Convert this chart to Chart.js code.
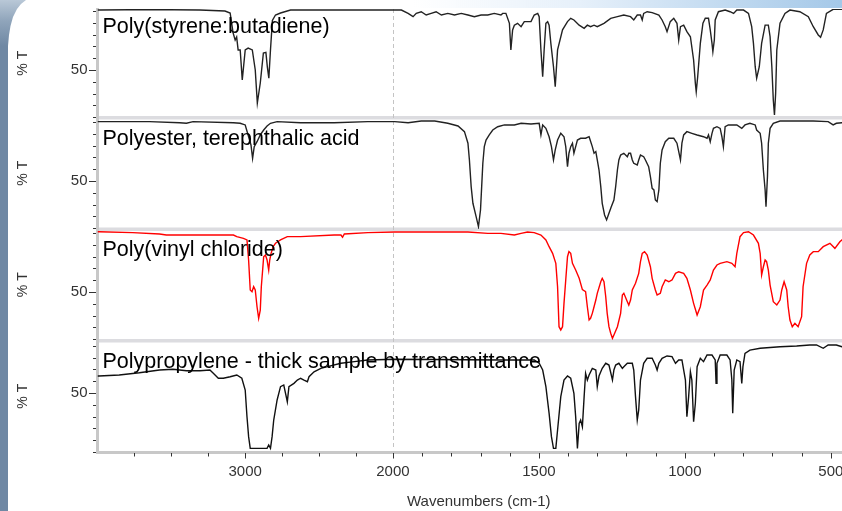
<!DOCTYPE html>
<html>
<head>
<meta charset="utf-8">
<title>IR spectra</title>
<script src="https://cdn.jsdelivr.net/npm/chart.js@4.4.1/dist/chart.umd.min.js"></script>
<style>
  html, body { margin: 0; padding: 0; background: #fff; overflow: hidden; }
  #wrap { position: relative; width: 842px; height: 511px; overflow: hidden; }
  #spectra { position: absolute; left: 0; top: 0; }
  .strip { position: absolute; left: 0; top: 0; width: 8px; height: 511px; background: #6f88a4; }
  .corner {
    position: absolute; left: 0; top: 0; width: 28px; height: 46px;
    background: linear-gradient(180deg, #b9c8d7 0%, #90a5bb 45%, #6f88a4 100%);
    clip-path: polygon(0 0, 26px 0, 21px 4px, 17px 9px, 13px 17px, 10.5px 26px, 9px 35px, 8px 46px, 0 46px);
  }
  .topbar {
    position: absolute; left: 0; top: 0; width: 842px; height: 8px;
    background: linear-gradient(to right, rgba(255,255,255,0) 0%, rgba(255,255,255,0) 49%, #e6f0fa 69%, #a4c8e8 100%);
  }
</style>
</head>
<body>
<div id="wrap">
  <canvas id="spectra" width="860" height="511"></canvas>
  <div class="strip"></div>
  <div class="corner"></div>
  <div class="topbar"></div>
</div>
<script>
const FONT = '"Liberation Sans", Arial, sans-serif';

const panelTitles = [
  "Poly(styrene:butadiene)",
  "Polyester, terephthalic acid",
  "Poly(vinyl chloride)",
  "Polypropylene - thick sample by transmittance"
];
const xLabelTicks = [3000, 2000, 1500, 1000, 500];
const xMinorTicks = [3750, 3500, 3250, 2750, 2500, 2250, 1900, 1800, 1700, 1600,
  1400, 1300, 1200, 1100, 900, 800, 700, 600, 400];
const yLabelTick = 50;

// [wavenumber cm-1, %T]
const sbr = [[4000,100.8],[3990,100.8],[3648,101.3],[3307,100.8],[3137,100],[3102,98.3],[3082,81.4],[3068,75.4],[3058,78],[3048,67],[3034,67],[3020,41.5],[3000,67],[2980,68.6],[2952,67],[2932,50],[2918,22],[2898,39],[2877,64.4],[2860,65],[2850,52.5],[2840,43],[2829,67],[2816,92],[2795,96.6],[2761,98.3],[2693,100.8],[2000,100.8],[1971,100.8],[1948,98],[1931,95.2],[1920,98],[1903,99.4],[1886,96.6],[1869,98],[1852,99.4],[1834,96.6],[1812,98],[1789,96.6],[1766,98],[1743,96.6],[1721,95.2],[1698,96.6],[1675,96.6],[1653,98],[1630,96.6],[1624,98],[1613,98],[1601,89.6],[1596,67],[1590,84],[1584,88],[1573,89.6],[1561,86.7],[1550,91],[1527,91],[1516,96.6],[1504,98],[1499,95.2],[1493,67],[1487,44.4],[1482,67],[1476,89.6],[1470,91],[1465,88],[1459,72.6],[1450,52.8],[1444,35.9],[1436,67],[1419,84],[1402,91],[1391,93.8],[1380,92.4],[1362,88],[1345,85.3],[1334,88],[1323,86.7],[1311,88],[1300,86.7],[1277,89.6],[1254,93.8],[1231,95.2],[1209,96.6],[1186,95.2],[1175,92.4],[1163,96.6],[1152,96.6],[1146,92.4],[1141,98],[1129,99.4],[1112,98.6],[1089,96.6],[1078,92.4],[1067,86.7],[1061,82.5],[1050,91],[1038,93.8],[1027,89.6],[1021,75.4],[1015,86.7],[1004,88],[993,82.5],[981,78.2],[970,58.5],[964,38.7],[961,31.6],[956,44.3],[947,72.6],[938,89.6],[930,93.8],[919,93.8],[913,84],[907,72.6],[904,65.5],[899,75.4],[896,92.4],[885,99.4],[862,100.8],[845,99.4],[833,98],[822,100.8],[799,100.8],[782,98],[771,86.7],[765,72.6],[759,52.8],[754,43],[745,52.8],[737,72.6],[725,88],[714,88],[708,78.2],[702,52.8],[697,24.6],[693,11.9],[689,30.2],[685,67],[674,89.6],[657,98],[640,100.8],[606,99.4],[577,95.2],[560,86.7],[543,79.7],[535,77.7],[526,84],[515,98],[492,101.4],[400,101.4]];

const pet = [[4000,100.3],[3990,100.3],[3648,100.3],[3444,99.4],[3398,98.9],[3353,100.3],[3080,99.4],[3034,98.9],[3000,97.5],[2977,87.5],[2961,80.5],[2950,69.2],[2939,79.1],[2920,83.3],[2898,89],[2875,93.2],[2852,96.6],[2829,98.9],[2784,100.3],[2625,99.4],[2398,99.4],[2170,100.3],[1994,100.3],[1948,99.4],[1903,100.8],[1857,100.8],[1812,98.9],[1777,96.6],[1755,91.8],[1743,82],[1738,67.8],[1732,45.2],[1726,31.1],[1715,19.8],[1707,11.3],[1700,25.4],[1696,45.2],[1692,65],[1687,79.1],[1681,84.7],[1670,89],[1658,93.2],[1641,96],[1618,97.5],[1584,97.5],[1561,98.9],[1527,98.3],[1499,98.9],[1493,89],[1487,97.5],[1476,94.6],[1465,87.5],[1457,79.1],[1450,67.8],[1444,76.3],[1436,84.7],[1425,90.4],[1414,87.5],[1408,79.1],[1402,62.1],[1397,73.5],[1391,79.1],[1385,82],[1380,73.5],[1374,79.1],[1368,84.7],[1357,86.2],[1340,86.2],[1328,87.5],[1317,79.1],[1311,73.5],[1305,74.9],[1300,67.8],[1294,59.3],[1288,45.2],[1283,31.1],[1275,21.2],[1268,17],[1260,22.6],[1252,28.2],[1243,33.9],[1237,45.2],[1231,59.3],[1226,67.8],[1220,72],[1209,73.5],[1197,70.6],[1192,73.5],[1186,73.5],[1180,67.8],[1175,65],[1163,63.6],[1158,67.8],[1152,72],[1141,70.6],[1135,67.8],[1124,62.1],[1118,53.7],[1112,43.8],[1106,42.4],[1101,33.9],[1095,32.5],[1089,42.4],[1084,65],[1078,76.3],[1067,83.3],[1055,86.2],[1038,86.2],[1027,82],[1015,67.8],[1010,82],[1004,89],[993,91.8],[976,90.4],[958,89],[936,87.5],[924,86.2],[919,89],[913,83.3],[907,90.4],[902,94.6],[890,96],[879,94.6],[873,87.5],[868,79.1],[862,96],[851,97.5],[822,97.5],[805,94.6],[794,97.5],[777,98.9],[759,97.5],[754,93.2],[742,90.4],[737,82],[731,59.3],[725,42.4],[722,28.2],[717,53.7],[714,82],[708,94.6],[697,98.9],[674,100.8],[560,100.8],[509,100.3],[492,97.5],[481,98.9],[462,99.4],[400,99.4]];

const pvc = [[4000,101.1],[3990,101.1],[3762,100.3],[3580,99.2],[3534,98.3],[3307,98.3],[3080,98.3],[3057,96.9],[3012,95.5],[2988,94.1],[2977,77.1],[2966,51.7],[2954,50.3],[2943,54.5],[2932,51.7],[2920,37.5],[2909,27.7],[2898,34.7],[2891,54.5],[2882,68.6],[2875,79.9],[2863,81.4],[2852,77.1],[2841,68.6],[2834,77.1],[2825,82.8],[2811,88.4],[2795,91.3],[2761,94.1],[2715,96.9],[2625,96.9],[2398,98.3],[2352,98.3],[2341,96.4],[2329,99.2],[2170,100.3],[1994,100.8],[1743,100.8],[1675,99.7],[1630,99.7],[1584,98.3],[1561,99.7],[1539,100.8],[1516,100.3],[1493,98.3],[1476,94.1],[1465,88.4],[1453,82.8],[1442,74.3],[1436,54.5],[1431,20.6],[1425,17.8],[1419,20.6],[1414,40.4],[1408,60.2],[1402,79.9],[1397,84.2],[1391,82.8],[1385,74.3],[1374,68.6],[1362,61.6],[1351,52],[1340,50.3],[1334,37.5],[1328,26.3],[1323,27.7],[1317,31.9],[1311,37.5],[1305,43.2],[1300,48.9],[1288,58.7],[1283,61.6],[1277,58.7],[1271,46],[1266,31.9],[1260,20.6],[1254,15],[1248,10.8],[1243,13.6],[1231,20.6],[1220,31.9],[1214,47.5],[1209,48.9],[1197,41.8],[1192,39],[1186,43.2],[1180,51.7],[1169,57.4],[1158,65.8],[1152,75.7],[1146,82.8],[1138,84.2],[1129,81.4],[1118,71.4],[1112,61.6],[1101,51.7],[1095,47.5],[1084,48.9],[1078,54.5],[1067,60.2],[1055,58.7],[1044,60.2],[1032,65.8],[1021,67.2],[1004,65.8],[993,61.6],[981,51.7],[970,40.4],[958,30.5],[947,37.5],[936,51.7],[924,55.9],[913,60.2],[902,68.6],[890,72.9],[879,74.3],[856,75.7],[839,74.3],[828,71.4],[822,82.8],[811,96.9],[799,100.3],[782,101.1],[765,98.3],[748,91.3],[742,82.8],[737,64.4],[731,71.4],[725,77.1],[720,75.7],[714,68.6],[708,55.9],[697,41.8],[685,39],[674,43.2],[668,51.7],[660,58.7],[651,51.7],[646,37.5],[640,26.3],[632,20.6],[623,23.5],[612,20.6],[600,29.1],[595,54.5],[583,74.3],[572,81.4],[560,84.2],[543,84.2],[526,88.4],[503,91.3],[486,87],[469,92.6],[462,94.1],[400,96]];

const pp = [[4000,64.4],[3990,64.4],[3853,65.3],[3717,67.2],[3580,69.5],[3489,70.1],[3398,68.9],[3307,68.9],[3239,69.5],[3216,66.7],[3182,62.5],[3148,62.5],[3102,63.8],[3057,65.3],[3023,62.5],[3000,52.5],[2988,29.9],[2977,13],[2966,3.1],[2852,3.1],[2841,5.9],[2829,3.1],[2818,13],[2807,27.1],[2784,44.1],[2761,55.4],[2739,56.8],[2727,49.7],[2715,42.6],[2704,55.4],[2670,58.2],[2647,61],[2625,62.5],[2602,61],[2579,59.6],[2568,63.8],[2534,68],[2488,70.9],[2443,72.3],[2352,75.2],[2261,76.6],[2170,78],[1994,78.6],[1630,78],[1516,78],[1499,75.2],[1487,69.5],[1476,55.4],[1465,32.8],[1457,13],[1450,3.1],[1442,3.1],[1436,18.6],[1425,46.9],[1414,61],[1402,64.4],[1391,62.5],[1380,49.7],[1374,29.9],[1368,3.1],[1362,24.3],[1357,27.1],[1351,21.4],[1345,46.9],[1340,66.7],[1334,61],[1328,65.3],[1317,70.9],[1305,69.5],[1300,55.4],[1294,64.4],[1283,70.9],[1271,75.2],[1260,73.7],[1248,61],[1243,69.5],[1237,73.7],[1226,75.2],[1214,70.9],[1209,72.3],[1197,75.2],[1180,75.2],[1175,69.5],[1169,46.9],[1163,27.1],[1158,35.6],[1152,61],[1141,75.2],[1129,79.4],[1112,79.4],[1101,73.7],[1095,69.5],[1089,75.2],[1078,79.4],[1061,81.4],[1044,80.8],[1032,75.2],[1021,78],[1010,78],[998,61],[993,29.9],[987,46.9],[981,68],[976,61],[970,25.7],[964,41.3],[958,72.3],[947,79.4],[936,76.6],[924,82.2],[907,82.2],[896,78],[893,58.2],[890,75.2],[879,82.2],[856,82.2],[845,78],[839,61],[836,32.8],[831,69.5],[822,78],[811,76.6],[805,58.2],[801,72.3],[794,83.6],[777,86.4],[742,87.9],[674,89.2],[617,89.8],[572,90.7],[549,90.7],[526,87.9],[509,90.7],[481,90.7],[462,89.2],[400,89.5]];

// the wavenumber axis is expanded 2x below 2000 cm-1
function wavePos(wn) {
  return wn >= 2000 ? (4000 - wn) * 0.506 : 1012 + (2000 - wn);
}

class WaveScale extends Chart.LinearScale {
  static id = "wave";
  getPixelForValue(value) {
    if (value === null || value === undefined || isNaN(value)) return NaN;
    const a = wavePos(this.max);
    const b = wavePos(this.min);
    return this.getPixelForDecimal((wavePos(value) - a) / (b - a));
  }
}
Chart.register(WaveScale);

function series(points, axis, color) {
  return {
    data: points.map((p) => ({ x: p[0], y: p[1] })),
    yAxisID: axis,
    borderColor: color,
    borderWidth: 1.4,
    pointRadius: 0,
    tension: 0,
    fill: false,
  };
}

function yAxis(min, max, weight) {
  return {
    type: "linear",
    position: "left",
    stack: "panels",
    stackWeight: weight,
    min: min,
    max: max,
    afterBuildTicks: (s) => { s.ticks = [{ value: yLabelTick }]; },
    afterFit: (s) => {
      s.width = 97.5;
      s.paddingTop = 0;
      s.paddingBottom = 0;
    },
    grid: { display: false, drawTicks: false },
    border: { display: true, color: "#c8c8c8", width: 3 },
    ticks: { padding: 10, color: "#333", font: { family: FONT, size: 15 }, callback: (v) => String(v) },
    title: { display: true, text: "% T", color: "#333", font: { family: FONT, size: 14 }, padding: { top: 15, bottom: 0 } },
  };
}

const panelDecor = {
  id: "panelDecor",
  beforeDatasetsDraw(chart) {
    const { ctx, chartArea: a, scales } = chart;
    ctx.save();
    // grey separators between the panels
    ctx.fillStyle = "#dcdce0";
    ["y1", "y2", "y3"].forEach((id) => {
      ctx.fillRect(a.left + 1.5, scales[id].bottom - 1.5, a.right - a.left, 3.5);
    });
    // dashed line at the scale change
    const bx = Math.round(scales.x.getPixelForValue(2000)) + 0.5;
    ctx.strokeStyle = "#c4c4c4";
    ctx.lineWidth = 1;
    ctx.setLineDash([4, 3]);
    ctx.beginPath();
    ctx.moveTo(bx, a.top);
    ctx.lineTo(bx, a.bottom - 2);
    ctx.stroke();
    ctx.restore();
  },
  afterDatasetsDraw(chart) {
    const { ctx, chartArea: a, scales } = chart;
    ctx.save();
    ctx.strokeStyle = "#333";
    ctx.lineWidth = 1;
    ctx.beginPath();
    xMinorTicks.forEach((v) => {
      const px = Math.round(scales.x.getPixelForValue(v)) + 0.5;
      ctx.moveTo(px, a.bottom + 1);
      ctx.lineTo(px, a.bottom + 4.5);
    });
    xLabelTicks.forEach((v) => {
      const px = Math.round(scales.x.getPixelForValue(v)) + 0.5;
      ctx.moveTo(px, a.bottom + 1);
      ctx.lineTo(px, a.bottom + 6.5);
    });
    ["y1", "y2", "y3", "y4"].forEach((id) => {
      const s = scales[id];
      for (let v = Math.ceil(s.min / 10) * 10; v <= s.max; v += 10) {
        const py = Math.round(s.getPixelForValue(v)) + 0.5;
        const len = v === yLabelTick ? 7 : 3;
        ctx.moveTo(a.left - 1.5 - len, py);
        ctx.lineTo(a.left - 1.5, py);
      }
    });
    ctx.stroke();
    // sample names
    ctx.fillStyle = "#000";
    ctx.font = "21.5px " + FONT;
    ctx.textBaseline = "alphabetic";
    ["y1", "y2", "y3", "y4"].forEach((id, i) => {
      ctx.fillText(panelTitles[i], a.left + 5, scales[id].bottom - 84.5);
    });
    ctx.restore();
  },
};

new Chart(document.getElementById("spectra"), {
  type: "line",
  data: {
    datasets: [
      series(sbr, "y1", "#222"),
      series(pet, "y2", "#222"),
      series(pvc, "y3", "#ff0000"),
      series(pp, "y4", "#111"),
    ],
  },
  options: {
    responsive: false,
    animation: false,
    events: [],
    layout: { padding: { top: 9, left: 0, right: 0, bottom: 0 } },
    plugins: { legend: { display: false }, tooltip: { enabled: false } },
    scales: {
      x: {
        type: "wave",
        min: 400,
        max: 4000,
        afterBuildTicks: (s) => { s.ticks = xLabelTicks.map((v) => ({ value: v })); },
        afterFit: (s) => { s.height = 59; },
        grid: { display: false, drawTicks: false },
        border: { display: true, color: "#c8c8c8", width: 3 },
        ticks: { autoSkip: false, maxRotation: 0, padding: 11, color: "#333", font: { family: FONT, size: 15 }, callback: (v) => String(v) },
        title: { display: true, text: "Wavenumbers (cm-1)", color: "#333", font: { family: FONT, size: 15 }, padding: { top: 0, bottom: 0 } },
      },
      // stacked axes are laid out bottom-up, so the bottom panel comes first
      y4: yAxis(0, 94.5, 111.5),
      y3: yAxis(8.9, 103.4, 111.5),
      y2: yAxis(9.3, 103.8, 111.5),
      y1: yAxis(9.75, 101.7, 108.5),
    },
  },
  plugins: [panelDecor],
});
</script>
</body>
</html>
